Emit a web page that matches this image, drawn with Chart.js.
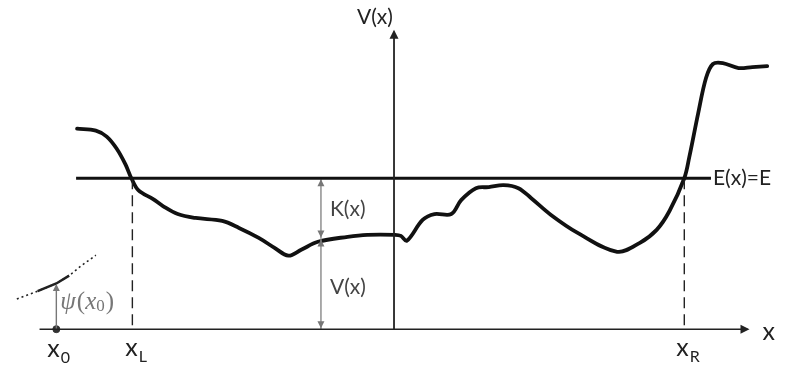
<!DOCTYPE html>
<html>
<head>
<meta charset="utf-8">
<script src="https://cdn.jsdelivr.net/npm/chart.js@4.4.0/dist/chart.umd.min.js"></script>
<style>
  html, body { margin: 0; padding: 0; background: #fff; }
  #wrap { width: 790px; height: 379px; }
</style>
</head>
<body>
<div id="wrap"><canvas id="potential"></canvas></div>
<script>
// potential V(x), in units where E = 1
var curveX = [-3.21, -3.02, -2.91, -2.81, -2.72, -2.66, -2.59, -2.44, -2.34, -2.19, -2.01, -1.74, -1.57, -1.37, -1.21, -1.07,
	-0.94, -0.77, -0.47, -0.27, 0.01, 0.07, 0.13, 0.29, 0.41, 0.58, 0.68, 0.83, 0.96, 1.11, 1.26, 1.39,
	1.59, 1.86, 2.26, 2.49, 2.66, 2.79, 2.94, 2.99, 3.08, 3.16, 3.23, 3.33, 3.49, 3.63, 3.78];
var curveV = [1.329, 1.316, 1.276, 1.197, 1.092, 1.0, 0.921, 0.862, 0.816, 0.763, 0.737, 0.717, 0.671, 0.605, 0.539, 0.487,
	0.526, 0.579, 0.612, 0.625, 0.625, 0.618, 0.586, 0.724, 0.763, 0.763, 0.855, 0.934, 0.941, 0.954, 0.934, 0.868,
	0.757, 0.638, 0.513, 0.572, 0.658, 0.783, 1.0, 1.138, 1.428, 1.664, 1.757, 1.763, 1.730, 1.737, 1.743];

// wavefunction sketch near x0
var psiX = [-3.82, -3.61, -3.42, -3.29, -3.17, -3.02];
var psiY = [0.2, 0.252, 0.303, 0.355, 0.419, 0.49];

var energy = 1;
var x0 = -3.42, xL = -2.65, xR = 2.94, xK = -0.74;
var xStart = -3.22, xEnd = 3.21;   // E line
var axisLeft = -3.59, axisRight = 3.58, vTop = 1.97;
var vAtK = 0.6;

function pts(xs, ys) {
	var out = [];
	for (var i = 0; i < xs.length; i++) out.push({x: xs[i], y: ys[i]});
	return out;
}

var lineFont = "Lato, 'Open Sans', sans-serif";

function seg(data, color, width, dash) {
	return {data: data, showLine: true, borderColor: color, borderWidth: width, borderDash: dash || [],
		pointRadius: 0, tension: 0, fill: false};
}

var datasets = [
	seg([{x: axisLeft, y: 0}, {x: axisRight, y: 0}], "#222", 1.6),
	seg([{x: 0, y: 0}, {x: 0, y: vTop}], "#222", 1.8),
	seg([{x: xStart, y: energy}, {x: xEnd, y: energy}], "#111", 3),
	seg([{x: xL, y: energy}, {x: xL, y: 0}], "#222", 1.4, [11, 6]),
	seg([{x: xR, y: energy}, {x: xR, y: 0}], "#222", 1.4, [11, 6]),
	seg([{x: xK, y: energy}, {x: xK, y: vAtK}], "#888", 1.4),
	seg([{x: xK, y: vAtK}, {x: xK, y: 0}], "#888", 1.4),
	seg([{x: x0, y: 0}, {x: x0, y: 0.29}], "#777", 1.4),
	seg(pts(psiX, psiY), "#222", 1.6, [2, 3]),
	seg(pts(psiX.slice(1, 4), psiY.slice(1, 4)), "#222", 2.5),
	{data: pts(curveX, curveV), showLine: true, borderColor: "#111", borderWidth: 3.8, pointRadius: 0,
		tension: 0.35, fill: false, borderCapStyle: "round", borderJoinStyle: "round"},
	{data: [{x: x0, y: 0}], showLine: false, pointRadius: 3.5, backgroundColor: "#333", borderColor: "#333"}
];

var decorate = {
	id: "decorate",
	afterDatasetsDraw: function(chart) {
		var ctx = chart.ctx;
		var sx = chart.scales.x, sy = chart.scales.y;
		function X(v) { return sx.getPixelForValue(v); }
		function Y(v) { return sy.getPixelForValue(v); }
		function head(px, py, dir, color, size) {
			ctx.save();
			ctx.fillStyle = color;
			ctx.beginPath();
			if (dir == "up") { ctx.moveTo(px, py); ctx.lineTo(px - size / 2, py + size); ctx.lineTo(px + size / 2, py + size); }
			if (dir == "down") { ctx.moveTo(px, py); ctx.lineTo(px - size / 2, py - size); ctx.lineTo(px + size / 2, py - size); }
			if (dir == "right") { ctx.moveTo(px, py); ctx.lineTo(px - size, py - size / 2); ctx.lineTo(px - size, py + size / 2); }
			ctx.closePath();
			ctx.fill();
			ctx.restore();
		}
		head(X(axisRight) + 2, Y(0), "right", "#222", 9);
		head(X(0), Y(vTop) - 2, "up", "#222", 9);
		head(X(xK), Y(energy) + 1, "up", "#777", 7);
		head(X(xK), Y(vAtK) - 1, "down", "#777", 7);
		head(X(xK), Y(vAtK) + 1, "up", "#777", 7);
		head(X(xK), Y(0) - 1, "down", "#777", 7);
		head(X(x0), Y(0.3), "up", "#777", 7);

		function txt(s, px, py, font, color) {
			ctx.save();
			ctx.font = font;
			ctx.fillStyle = color;
			ctx.textAlign = "left";
			ctx.textBaseline = "middle";
			ctx.fillText(s, px, py);
			var w = ctx.measureText(s).width;
			ctx.restore();
			return w;
		}
		var f21 = "21px " + lineFont, f25 = "25px " + lineFont, f16 = "16px " + lineFont;
		function sub(main, s, px, py) {
			var w = txt(main, px, py, f25, "#222");
			txt(s, px + w + 1, py + 9, f16, "#222");
		}
		txt("V(x)", X(0) - 37, 17, f21, "#222");
		txt("E(x)=E", X(xEnd) + 2, Y(energy), f21, "#222");
		txt("K(x)", X(xK) + 9, Y((energy + vAtK) / 2) + 1, f21, "#444");
		txt("V(x)", X(xK) + 9, Y(vAtK / 2) + 3, f21, "#444");
		txt("x", X(axisRight) + 15, Y(0) + 3, f25, "#222");
		sub("x", "0", X(x0) - 9, Y(0) + 20);
		sub("x", "L", X(xL) - 7, Y(0) + 19);
		sub("x", "R", X(xR) - 8, Y(0) + 19);

		var py = Y(0.18), px = X(x0) + 4;
		var serifI = "italic 25px 'Liberation Serif', 'DejaVu Serif', serif";
		var serifN = "25px 'Liberation Serif', serif";
		var w1 = txt("\u03c8", px, py, serifI, "#777");
		var w2 = txt("(", px + w1 + 1, py, serifN, "#777");
		var w3 = txt("x", px + w1 + w2 + 1, py, serifI, "#777");
		var w4 = txt("0", px + w1 + w2 + w3 + 1, py + 5, "17px 'Liberation Serif', serif", "#777");
		txt(")", px + w1 + w2 + w3 + w4 + 2, py, serifN, "#777");
	}
};

new Chart(document.getElementById("potential"), {
	type: "scatter",
	data: {datasets: datasets},
	options: {
		responsive: true,
		maintainAspectRatio: false,
		animation: false,
		layout: {padding: 0},
		plugins: {legend: {display: false}, tooltip: {enabled: false}},
		scales: {
			x: {type: "linear", min: -3.94, max: 3.96, display: false},
			y: {type: "linear", min: -0.297, max: 2.148, display: false}
		}
	},
	plugins: [decorate]
});
</script>
</body>
</html>
